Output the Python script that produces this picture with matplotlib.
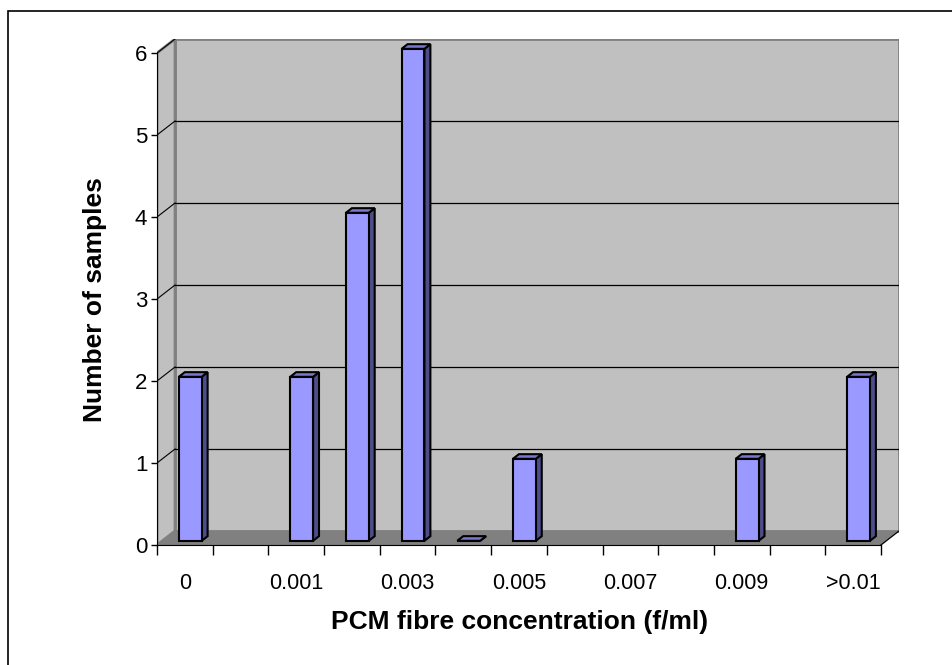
import numpy as np
import matplotlib
matplotlib.use("Agg")
import matplotlib.pyplot as plt
from matplotlib.patches import Polygon, Rectangle

plt.rcParams['font.family'] = ['Liberation Sans', 'DejaVu Sans']

# Data: sample counts per concentration class (blank classes are NaN)
categories = ["0", "0.0005", "0.001", "0.002", "0.003", "0.004", "0.005",
              "0.006", "0.007", "0.008", "0.009", "0.01", ">0.01"]
counts = [2, np.nan, 2, 4, 6, 0, 1, np.nan, np.nan, np.nan, 1, np.nan, 2]
y_ticks = [0, 1, 2, 3, 4, 5, 6]

# 3D look: depth offset of the back wall in data units
ddx = 0.324
ddy = 0.171
front_col = '#9999FF'
side_col = '#4D4D8A'
top_col = '#7878D0'
wall_col = '#C0C0C0'
edge_gray = '#808080'

n = len(categories)
x = np.arange(n)
ymax = max(y_ticks)

fig = plt.figure(figsize=(9.52, 6.65), dpi=100)
ax = fig.add_axes([157 / 952, 120 / 665, 742 / 952, 506 / 665])
ax.set_xlim(-0.5, n - 0.5 + ddx)
ax.set_ylim(0, ymax + ddy)
ax.patch.set_visible(False)

# walls and floor
back = Rectangle((-0.5 + ddx, ddy), n, ymax, facecolor=wall_col,
                 edgecolor=edge_gray, linewidth=2, zorder=1)
ax.add_patch(back)
left = Polygon([(-0.5, 0), (-0.5 + ddx, ddy), (-0.5 + ddx, ymax + ddy), (-0.5, ymax)],
               closed=True, facecolor=wall_col, edgecolor=edge_gray, linewidth=2, zorder=1)
ax.add_patch(left)
floor = Polygon([(-0.5, 0), (n - 0.5, 0), (n - 0.5 + ddx, ddy), (-0.5 + ddx, ddy)],
                closed=True, facecolor=edge_gray, edgecolor='none', zorder=2)
ax.add_patch(floor)
ax.plot([n - 0.5, n - 0.5 + ddx], [0, ddy], color='black', lw=0.9, zorder=3)

# gridlines on back wall and left wall
for v in y_ticks[1:-1]:
    ax.plot([-0.5 + ddx, n - 0.5 + ddx], [v + ddy, v + ddy], color='black', lw=0.9, zorder=2)
for v in y_ticks[1:]:
    ax.plot([-0.5, -0.5 + ddx], [v, v + ddy], color='black', lw=0.8, zorder=2)

# bars
f = 0.3    # bar position in depth
d = 0.33   # bar depth
w = 0.41
vals = np.array(counts, dtype=float)
ok = ~np.isnan(vals)
xc = x[ok] + f * ddx
yb = f * ddy
ax.bar(xc, vals[ok], width=w, bottom=yb, color=front_col, edgecolor='black',
       linewidth=1.5, zorder=5)
sx, sy = d * ddx, d * ddy
for cx, v in zip(xc, vals[ok]):
    x0, x1 = cx - w / 2, cx + w / 2
    yt = yb + v
    side = Polygon([(x1, yb), (x1 + sx, yb + sy), (x1 + sx, yt + sy), (x1, yt)],
                   closed=True, facecolor=side_col, edgecolor='black', linewidth=1.5, zorder=4)
    top = Polygon([(x0, yt), (x1, yt), (x1 + sx, yt + sy), (x0 + sx, yt + sy)],
                  closed=True, facecolor=top_col, edgecolor='black', linewidth=1.5, zorder=6)
    ax.add_patch(side)
    ax.add_patch(top)

# axes
for s in ['top', 'right']:
    ax.spines[s].set_visible(False)
ax.spines['left'].set_bounds(0, ymax)
ax.spines['bottom'].set_bounds(-0.5, n - 0.5)
ax.spines['left'].set_zorder(7)
ax.spines['bottom'].set_zorder(7)
ax.set_yticks(y_ticks)
ax.set_yticklabels([str(t) for t in y_ticks])
ax.tick_params(axis='y', direction='out', length=4, width=1, pad=3, labelsize=16)

ax.set_xticks(np.arange(-0.5, n, 1.0))
ax.set_xticklabels([])
ax.tick_params(axis='x', which='major', direction='out', length=7, width=1)
ax.set_xticks(x[::2], minor=True)
ax.set_xticklabels(categories[::2], minor=True)
ax.tick_params(axis='x', which='minor', length=0, pad=20, labelsize=15.5)

fig.text(520 / 952, 1 - 622 / 665, "PCM fibre concentration (f/ml)", ha='center', va='center',
         fontsize=19, fontweight='bold')
fig.text(95 / 952, 1 - 300 / 665, "Number of samples", ha='center', va='center',
         rotation=90, fontsize=19, fontweight='bold')

# chart border (only top and left edges inside the picture)
fig.add_artist(Rectangle((8 / 952, -0.5), 2.0, 1.5 - 10.5 / 665, transform=fig.transFigure,
                         fill=False, edgecolor='black', linewidth=1.2))

fig.savefig("out.png", dpi=100, facecolor='white')
